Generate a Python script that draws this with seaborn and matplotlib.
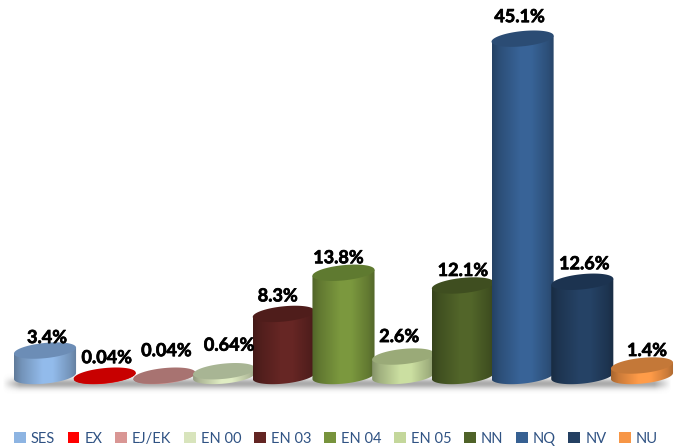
import numpy as np
import pandas as pd
import seaborn as sns
import matplotlib
matplotlib.use('Agg')
import matplotlib.pyplot as plt
import matplotlib.patheffects as pe
from matplotlib.colors import to_rgb
from matplotlib.patches import Patch, Polygon

segments = ['SES', 'EX', 'EJ/EK', 'EN 00', 'EN 03', 'EN 04', 'EN 05', 'NN', 'NQ', 'NV', 'NU']
shares = [3.4, 0.04, 0.04, 0.64, 8.3, 13.8, 2.6, 12.1, 45.1, 12.6, 1.4]
share_labels = ['3.4%', '0.04%', '0.04%', '0.64%', '8.3%', '13.8%', '2.6%', '12.1%', '45.1%', '12.6%', '1.4%']

colors = ['#8DB4E2', '#FF0000', '#D99694', '#D8E4BC', '#632523', '#77933C',
          '#C4D79B', '#4F6228', '#366092', '#244062', '#F79646']
top_colors = ['#6C8DB6', '#C80000', '#A87371', '#A8B594', '#4F1D1B', '#5F7A30',
              '#9AAA78', '#3F4E20', '#2B4C74', '#1C3350', '#C47838']

# label offsets in pixels from the top of each cylinder
label_dx = [2, 2, 2, 5, -6, -5, -4, 0, -3, 2, 5]
label_dy = [13, 18, 25, 26, 18, 15, 20, 15, 22, 18, 15]

plt.rcParams['font.family'] = ['Lato', 'DejaVu Sans']

df = pd.DataFrame({'segment': segments, 'share': shares})

fig = plt.figure(figsize=(6.8, 4.46), dpi=100)
ax = fig.add_axes([0, 0, 1, 1])
sns.barplot(data=df, x='segment', y='share', hue='segment', palette=colors,
            width=1.04, dodge=False, legend=False, saturation=1, ax=ax)

xlim = (-0.754, 10.637)
ylim = (-9.36, 50.27)
ell_b = 1.02    # half height of the cylinder ends
ell_tilt = 0.4
shade = np.interp(np.linspace(0, 1, 120), [0, 0.12, 0.45, 0.62, 0.9, 1], [0.68, 0.82, 1.04, 1.04, 0.82, 0.7])

# soft shadow under the row of cylinders
ny, nx = 60, 400
yy = np.linspace(-1, 1, ny)[:, None]
xx = np.linspace(0, 1, nx)[None, :]
alpha = np.exp(-(yy * 2.0) ** 2) * np.clip(np.minimum(xx, 1 - xx) * 40, 0, 1) * 0.6
shadow = np.ones((ny, nx, 4)) * 0.45
shadow[..., 3] = alpha
ax.imshow(shadow, extent=(-0.72, 10.5, -2.4, 0.3), aspect='auto', zorder=0.5, interpolation='bilinear')

t = np.linspace(0, 2 * np.pi, 120)
for i, bar in enumerate(ax.patches):
    cx = bar.get_x() + bar.get_width() / 2
    a = bar.get_width() / 2
    h = bar.get_height()
    bar.set_zorder(1)
    bar.set_visible(False)

    # body: bottom arc of the base ellipse, closed at the height of the bar
    tb = np.linspace(np.pi, 2 * np.pi, 60)
    bx = cx + a * np.cos(tb)
    by = ell_b * np.sin(tb) + ell_tilt * np.cos(tb)
    body = np.column_stack([bx, by])
    body = np.vstack([body, [cx + a, h + ell_tilt], [cx - a, h - ell_tilt]])
    outline = Polygon(body, closed=True, transform=ax.transData, facecolor='none', edgecolor='none')
    ax.add_patch(outline)
    grad = np.clip(shade[None, :, None] * np.array(to_rgb(colors[i]))[None, None, :], 0, 1)
    im = ax.imshow(grad, extent=(cx - a, cx + a, -ell_b - 1, h + 1), aspect='auto',
                   zorder=3 + i, interpolation='bilinear')
    im.set_clip_path(outline)

    # top ellipse
    top = np.column_stack([cx + a * np.cos(t), h + ell_b * np.sin(t) + ell_tilt * np.cos(t)])
    ax.add_patch(Polygon(top, closed=True, facecolor=top_colors[i], edgecolor='none', zorder=3.5 + i))

    ax.annotate(share_labels[i], (cx, h), xytext=(label_dx[i], label_dy[i]), textcoords='offset pixels',
                ha='center', va='center', fontsize=13, fontweight='bold', color='black', zorder=30,
                path_effects=[pe.withStroke(linewidth=0.5, foreground='black')])

ax.set_xlim(xlim)
ax.set_ylim(ylim)
ax.axis('off')

handles = [Patch(facecolor=c, edgecolor='none', label=s) for c, s in zip(colors, segments)]
ax.legend(handles=handles, loc='lower center', bbox_to_anchor=(0.494, -0.024), ncol=len(segments), frameon=False,
          fontsize=10.5, labelcolor='#2F5283', handlelength=0.8, handleheight=0.8,
          handletextpad=0.35, columnspacing=0.87, borderpad=0.25)

fig.savefig('out.png', dpi=100)
plt.close(fig)
